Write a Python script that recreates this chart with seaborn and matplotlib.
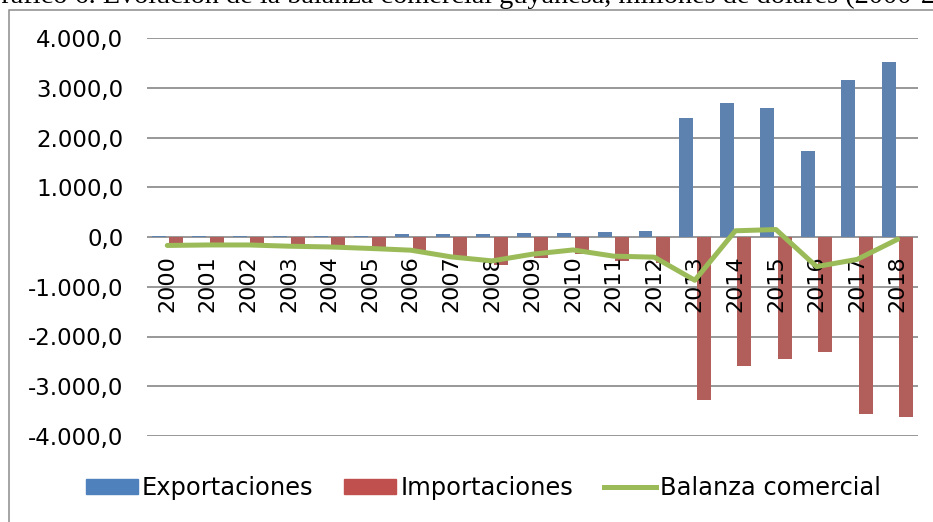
import numpy as np
import pandas as pd
import matplotlib
matplotlib.use("Agg")
import matplotlib.pyplot as plt
from matplotlib.patches import Patch, Rectangle
from matplotlib.lines import Line2D
import seaborn as sns

# Guyana trade, millions of dollars
years = [str(y) for y in range(2000, 2019)]
exportaciones = [20, 20, 20, 20, 25, 25, 55, 55, 70, 75, 85, 95, 120,
                 2400, 2700, 2590, 1735, 3160, 3525]
importaciones = [-190, -180, -185, -210, -230, -260, -320, -450, -555, -420,
                 -340, -485, -525, -3275, -2585, -2450, -2320, -3565, -3610]
balanza = [-170, -160, -160, -185, -200, -230, -265, -400, -480, -345,
           -260, -385, -405, -870, 125, 150, -595, -450, -45]
series_names = ["Exportaciones", "Importaciones", "Balanza comercial"]
y_ticks = [-4000, -3000, -2000, -1000, 0, 1000, 2000, 3000, 4000]
title = ("Gráfico 6. Evolución de la balanza comercial guyanesa, "
         "millones de dólares (2000-2018)")

BLUE, RED, GREEN, GRID = "#4F81BD", "#C0504D", "#9BBB59", "#868686"

df = pd.DataFrame({
    "Año": years * 2,
    "Valor": exportaciones + importaciones,
    "Serie": [series_names[0]] * len(years) + [series_names[1]] * len(years),
})

W, H = 933, 522
fig = plt.figure(figsize=(W / 100, H / 100), dpi=100)
ax = fig.add_axes([147 / W, 1 - 436 / H, (918 - 147) / W, (436 - 38) / H])

sns.barplot(data=df, x="Año", y="Valor", hue="Serie", order=years,
            hue_order=series_names[:2], palette=[BLUE, RED],
            width=0.86, gap=0.2, errorbar=None, linewidth=0,
            legend=False, ax=ax)
sns.lineplot(x=np.arange(len(years)), y=balanza, color=GREEN, lw=3.6,
             solid_joinstyle="round", solid_capstyle="round",
             zorder=4, ax=ax)

ax.set_xlim(-0.5, len(years) - 0.5)
ax.set_ylim(-4000, 4000)
ax.set_yticks(y_ticks)
ax.set_yticklabels([f"{v:,.1f}".replace(",", "X").replace(".", ",").replace("X", ".")
                    for v in y_ticks])
ax.set_xticks(range(len(years)))
ax.set_xticklabels(years)
ax.set_xlabel("")
ax.set_ylabel("")

for s in ax.spines.values():
    s.set_visible(False)
ax.spines["bottom"].set_position(("data", 0))

ax.yaxis.grid(True, color=GRID, lw=1.2)
ax.xaxis.grid(False)
ax.set_axisbelow(True)
ax.xaxis.set_zorder(2.5)

ax.tick_params(axis="x", length=0, pad=13, labelsize=16, labelrotation=90)
ax.tick_params(axis="y", length=0, pad=17, labelsize=16.5)

handles = [Patch(color=BLUE), Patch(color=RED), Line2D([], [], color=GREEN, lw=3.6)]
fig.legend(handles, series_names, loc="center", bbox_to_anchor=(0.518, 0.065),
           ncol=3, frameon=False, fontsize=17.4, handlelength=2.15,
           handletextpad=0.17, columnspacing=1.28, handleheight=0.62)

# chart frame (runs off the right and bottom edges)
fig.patches.append(Rectangle((8.5 / W, -0.1), 1.2, 1 - 10 / H + 0.1,
                             transform=fig.transFigure, fill=False,
                             edgecolor="#8C8C8C", lw=1.1))

fig.text(-0.02, 1 - 3 / H, title, family="Liberation Serif", fontsize=20.3,
         va="baseline", ha="left")

fig.savefig("out.png", dpi=100)
